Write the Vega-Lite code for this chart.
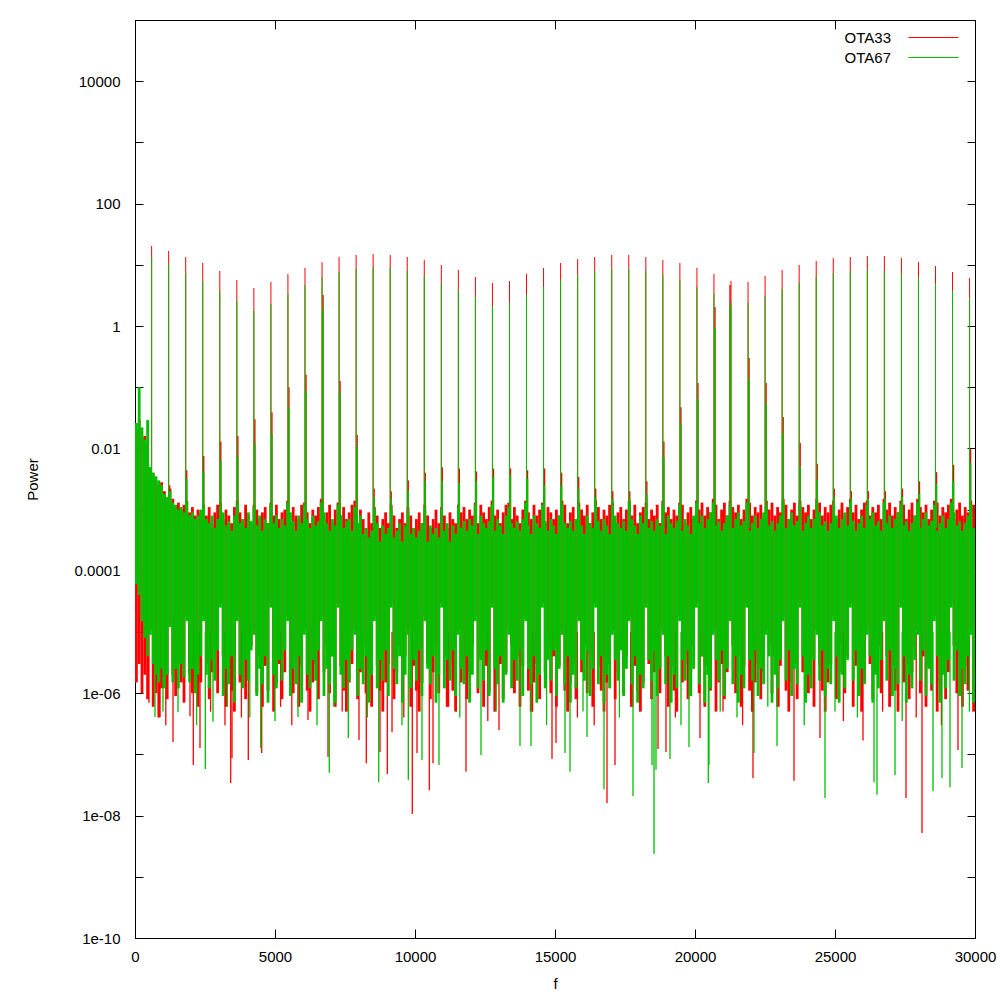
{
  "$schema": "https://vega.github.io/schema/vega-lite/v6.json",
  "width": 840,
  "height": 918,
  "autosize": {"type": "none"},
  "padding": {"left": 135, "top": 20, "right": 25, "bottom": 62},
  "background": "white",
  "config": {
    "view": {"stroke": "#000", "strokeWidth": 1},
    "axis": {"labelFont": "Liberation Sans", "labelFontSize": 15, "labelColor": "#000", "titleFont": "Liberation Sans", "titleFontSize": 15, "titleFontWeight": "normal", "titleColor": "#000", "tickColor": "#000", "domainColor": "#000", "grid": false},
    "legend": {"labelFont": "Liberation Sans", "labelFontSize": 15, "labelColor": "#000"}
  },
  "datasets": {
    "band": [
      {"f":50,"rh":2e-2,"rl":1.5e-6,"gh":2.6e-2,"gl":6e-5},
      {"f":150,"rh":3e-2,"rl":3e-6,"gh":0.1,"gl":4e-5},
      {"f":250,"rh":1.5e-2,"rl":1e-6,"gh":2.2e-2,"gl":1.5e-5},
      {"f":350,"rh":1.6e-2,"rl":2e-6,"gh":1.4e-2,"gl":8e-6},
      {"f":450,"rh":1.2e-2,"rl":8e-7,"gh":2.9e-2,"gl":4e-6},
      {"f":550,"rh":4.5e-3,"rl":1.1e-5,"gh":5e-3,"gl":9e-6},
      {"f":650,"rh":4e-3,"rl":6e-7,"gh":4e-3,"gl":3e-6},
      {"f":750,"rh":3e-3,"rl":1e-6,"gh":3.5e-3,"gl":2e-6},
      {"f":850,"rh":2.5e-3,"rl":4e-7,"gh":3e-3,"gl":1.5e-6},
      {"f":950,"rh":2.8e-3,"rl":1.2e-6,"gh":2.5e-3,"gl":2.5e-6},
      {"f":1050,"rh":2e-3,"rl":2e-6,"gh":1.8e-3,"gl":1.2e-6},
      {"f":1150,"rh":1.4e-3,"rl":8e-7,"gh":1.6e-3,"gl":2e-6},
      {"f":1250,"rh":2.2e-3,"rl":1.4e-5,"gh":2e-3,"gl":1.2e-5},
      {"f":1350,"rh":1.5e-3,"rl":2e-6,"gh":1.3e-3,"gl":1.5e-6},
      {"f":1450,"rh":1.1e-3,"rl":9e-7,"gh":1.2e-3,"gl":2.5e-6},
      {"f":1550,"rh":1.3e-3,"rl":3e-6,"gh":1e-3,"gl":1.2e-6},
      {"f":1650,"rh":1e-3,"rl":1.5e-6,"gh":1.1e-3,"gl":3e-6},
      {"f":1750,"rh":1.2e-3,"rl":7e-7,"gh":9e-4,"gl":1.8e-6},
      {"f":1850,"rh":1.4e-3,"rl":1.8e-5,"gh":1.3e-3,"gl":1.5e-5},
      {"f":1950,"rh":9e-4,"rl":2e-6,"gh":8e-4,"gl":1.5e-6},
      {"f":2050,"rh":1.1e-3,"rl":1e-6,"gh":9e-4,"gl":2.5e-6},
      {"f":2150,"rh":8e-4,"rl":2.5e-6,"gh":7e-4,"gl":1e-6},
      {"f":2250,"rh":1e-3,"rl":6e-7,"gh":8e-4,"gl":2e-6},
      {"f":2350,"rh":9e-4,"rl":1.5e-6,"gh":1e-3,"gl":4e-6},
      {"f":2450,"rh":1.2e-3,"rl":1.8e-5,"gh":1.1e-3,"gl":1.5e-5},
      {"f":2550,"rh":8e-4,"rl":3e-6,"gh":7e-4,"gl":2e-6},
      {"f":2650,"rh":1.1e-3,"rl":8e-7,"gh":6e-4,"gl":1.2e-6},
      {"f":2750,"rh":6e-4,"rl":2.2e-6,"gh":8e-4,"gl":3.5e-6},
      {"f":2850,"rh":9e-4,"rl":6e-6,"gh":5e-4,"gl":1.6e-6},
      {"f":2950,"rh":1.2e-3,"rl":1e-6,"gh":7e-4,"gl":5e-6},
      {"f":3050,"rh":1.3e-3,"rl":3e-5,"gh":1.1e-3,"gl":2.5e-5},
      {"f":3150,"rh":7e-4,"rl":4e-6,"gh":9e-4,"gl":9e-7},
      {"f":3250,"rh":1e-3,"rl":6e-7,"gh":5.5e-4,"gl":2.5e-6},
      {"f":3350,"rh":8e-4,"rl":2.8e-6,"gh":6.5e-4,"gl":1.4e-6},
      {"f":3450,"rh":6e-4,"rl":1.1e-6,"gh":4.5e-4,"gl":4e-6},
      {"f":3550,"rh":1.1e-3,"rl":5e-7,"gh":8e-4,"gl":7e-7},
      {"f":3650,"rh":1.4e-3,"rl":1.8e-5,"gh":1.2e-3,"gl":1.5e-5},
      {"f":3750,"rh":9e-4,"rl":1.5e-6,"gh":6e-4,"gl":2e-6},
      {"f":3850,"rh":7e-4,"rl":3e-6,"gh":7e-4,"gl":1.2e-6},
      {"f":3950,"rh":1.2e-3,"rl":8e-7,"gh":5e-4,"gl":3.5e-6},
      {"f":4050,"rh":8e-4,"rl":2.2e-6,"gh":9e-4,"gl":1.6e-6},
      {"f":4150,"rh":6e-4,"rl":6e-6,"gh":6.5e-4,"gl":5e-6},
      {"f":4250,"rh":1.2e-3,"rl":1.1e-5,"gh":1.1e-3,"gl":9e-6},
      {"f":4350,"rh":1e-3,"rl":1e-6,"gh":5.5e-4,"gl":9e-7},
      {"f":4450,"rh":7e-4,"rl":4e-6,"gh":8e-4,"gl":2.5e-6},
      {"f":4550,"rh":9e-4,"rl":6e-7,"gh":4.5e-4,"gl":1.4e-6},
      {"f":4650,"rh":1.1e-3,"rl":2.8e-6,"gh":7e-4,"gl":4e-6},
      {"f":4750,"rh":6e-4,"rl":1.1e-6,"gh":6e-4,"gl":7e-7},
      {"f":4850,"rh":1.3e-3,"rl":3e-5,"gh":1.2e-3,"gl":2.5e-5},
      {"f":4950,"rh":8e-4,"rl":5e-7,"gh":6e-4,"gl":2e-6},
      {"f":5050,"rh":1.2e-3,"rl":1.5e-6,"gh":8e-4,"gl":1.2e-6},
      {"f":5150,"rh":7e-4,"rl":3e-6,"gh":5e-4,"gl":3.5e-6},
      {"f":5250,"rh":9e-4,"rl":8e-7,"gh":7e-4,"gl":1.6e-6},
      {"f":5350,"rh":1e-3,"rl":2.2e-6,"gh":5.5e-4,"gl":5e-6},
      {"f":5450,"rh":1.4e-3,"rl":1.8e-5,"gh":1.3e-3,"gl":1.5e-5},
      {"f":5550,"rh":6e-4,"rl":6e-6,"gh":9e-4,"gl":9e-7},
      {"f":5650,"rh":1.1e-3,"rl":1e-6,"gh":6.5e-4,"gl":2.5e-6},
      {"f":5750,"rh":8e-4,"rl":4e-6,"gh":4.5e-4,"gl":1.4e-6},
      {"f":5850,"rh":7e-4,"rl":6e-7,"gh":8e-4,"gl":4e-6},
      {"f":5950,"rh":1.2e-3,"rl":2.8e-6,"gh":6e-4,"gl":7e-7},
      {"f":6050,"rh":1.3e-3,"rl":1.1e-5,"gh":1.2e-3,"gl":9e-6},
      {"f":6150,"rh":9e-4,"rl":1.1e-6,"gh":7e-4,"gl":2e-6},
      {"f":6250,"rh":6e-4,"rl":5e-7,"gh":5e-4,"gl":1.2e-6},
      {"f":6350,"rh":1e-3,"rl":1.5e-6,"gh":8e-4,"gl":3.5e-6},
      {"f":6450,"rh":8e-4,"rl":3e-6,"gh":5.5e-4,"gl":1.6e-6},
      {"f":6550,"rh":1.1e-3,"rl":8e-7,"gh":6.5e-4,"gl":5e-6},
      {"f":6650,"rh":1.5e-3,"rl":1.8e-5,"gh":1.3e-3,"gl":1.5e-5},
      {"f":6750,"rh":7e-4,"rl":2.2e-6,"gh":9e-4,"gl":9e-7},
      {"f":6850,"rh":9e-4,"rl":6e-6,"gh":6e-4,"gl":2.5e-6},
      {"f":6950,"rh":1.2e-3,"rl":1e-6,"gh":4.5e-4,"gl":1.4e-6},
      {"f":7050,"rh":6e-4,"rl":4e-6,"gh":7e-4,"gl":4e-6},
      {"f":7150,"rh":1e-3,"rl":6e-7,"gh":5.5e-4,"gl":7e-7},
      {"f":7250,"rh":1.3e-3,"rl":3e-5,"gh":1.2e-3,"gl":2.5e-5},
      {"f":7350,"rh":8e-4,"rl":2.8e-6,"gh":8e-4,"gl":2e-6},
      {"f":7450,"rh":1.1e-3,"rl":1.1e-6,"gh":5e-4,"gl":1.2e-6},
      {"f":7550,"rh":7e-4,"rl":5e-7,"gh":6.5e-4,"gl":3.5e-6},
      {"f":7650,"rh":9e-4,"rl":1.5e-6,"gh":7e-4,"gl":1.6e-6},
      {"f":7750,"rh":1.2e-3,"rl":3e-6,"gh":4.5e-4,"gl":5e-6},
      {"f":7850,"rh":1.4e-3,"rl":1.1e-5,"gh":1.1e-3,"gl":9e-6},
      {"f":7950,"rh":6e-4,"rl":8e-7,"gh":6e-4,"gl":9e-7},
      {"f":8050,"rh":1e-3,"rl":2.2e-6,"gh":8e-4,"gl":2.5e-6},
      {"f":8150,"rh":7e-4,"rl":6e-6,"gh":4e-4,"gl":1.4e-6},
      {"f":8250,"rh":5e-4,"rl":1e-6,"gh":5e-4,"gl":4e-6},
      {"f":8350,"rh":9e-4,"rl":4e-6,"gh":3.5e-4,"gl":7e-7},
      {"f":8450,"rh":6e-4,"rl":6e-7,"gh":4.5e-4,"gl":2e-6},
      {"f":8550,"rh":1.1e-3,"rl":1.8e-5,"gh":1e-3,"gl":1.5e-5},
      {"f":8650,"rh":8e-4,"rl":2.8e-6,"gh":6e-4,"gl":1.2e-6},
      {"f":8750,"rh":5e-4,"rl":1.1e-6,"gh":3e-4,"gl":3.5e-6},
      {"f":8850,"rh":7e-4,"rl":5e-7,"gh":5.5e-4,"gl":1.6e-6},
      {"f":8950,"rh":9e-4,"rl":1.5e-6,"gh":4e-4,"gl":5e-6},
      {"f":9050,"rh":6e-4,"rl":3e-6,"gh":5e-4,"gl":9e-7},
      {"f":9150,"rh":1.2e-3,"rl":3e-5,"gh":1e-3,"gl":2.5e-5},
      {"f":9250,"rh":8e-4,"rl":8e-7,"gh":3.5e-4,"gl":2.5e-6},
      {"f":9350,"rh":5e-4,"rl":2.2e-6,"gh":4.5e-4,"gl":1.4e-6},
      {"f":9450,"rh":7e-4,"rl":6e-6,"gh":6e-4,"gl":4e-6},
      {"f":9550,"rh":9e-4,"rl":1e-6,"gh":3e-4,"gl":7e-7},
      {"f":9650,"rh":6e-4,"rl":4e-6,"gh":5.5e-4,"gl":2e-6},
      {"f":9750,"rh":1.1e-3,"rl":1.1e-5,"gh":9e-4,"gl":9e-6},
      {"f":9850,"rh":8e-4,"rl":6e-7,"gh":4e-4,"gl":1.2e-6},
      {"f":9950,"rh":5e-4,"rl":2.8e-6,"gh":5e-4,"gl":3.5e-6},
      {"f":10050,"rh":7e-4,"rl":1.1e-6,"gh":3.5e-4,"gl":1.6e-6},
      {"f":10150,"rh":9e-4,"rl":5e-7,"gh":4.5e-4,"gl":5e-6},
      {"f":10250,"rh":6e-4,"rl":1.5e-6,"gh":6e-4,"gl":9e-7},
      {"f":10350,"rh":1.2e-3,"rl":1.8e-5,"gh":1e-3,"gl":1.5e-5},
      {"f":10450,"rh":8e-4,"rl":3e-6,"gh":3e-4,"gl":2.5e-6},
      {"f":10550,"rh":5e-4,"rl":8e-7,"gh":5.5e-4,"gl":1.4e-6},
      {"f":10650,"rh":7e-4,"rl":2.2e-6,"gh":4e-4,"gl":4e-6},
      {"f":10750,"rh":1e-3,"rl":6e-6,"gh":5e-4,"gl":7e-7},
      {"f":10850,"rh":6e-4,"rl":1e-6,"gh":3.5e-4,"gl":2e-6},
      {"f":10950,"rh":1.1e-3,"rl":3e-5,"gh":1e-3,"gl":2.5e-5},
      {"f":11050,"rh":8e-4,"rl":4e-6,"gh":4.5e-4,"gl":1.2e-6},
      {"f":11150,"rh":5e-4,"rl":6e-7,"gh":6e-4,"gl":3.5e-6},
      {"f":11250,"rh":9e-4,"rl":2.8e-6,"gh":3e-4,"gl":1.6e-6},
      {"f":11350,"rh":7e-4,"rl":1.1e-6,"gh":5.5e-4,"gl":5e-6},
      {"f":11450,"rh":6e-4,"rl":5e-7,"gh":4e-4,"gl":9e-7},
      {"f":11550,"rh":1.2e-3,"rl":1.1e-5,"gh":1.1e-3,"gl":9e-6},
      {"f":11650,"rh":9e-4,"rl":1.5e-6,"gh":5e-4,"gl":2.5e-6},
      {"f":11750,"rh":1.1e-3,"rl":3e-6,"gh":6.5e-4,"gl":1.4e-6},
      {"f":11850,"rh":7e-4,"rl":8e-7,"gh":4.5e-4,"gl":4e-6},
      {"f":11950,"rh":1e-3,"rl":2.2e-6,"gh":7e-4,"gl":7e-7},
      {"f":12050,"rh":8e-4,"rl":6e-6,"gh":5.5e-4,"gl":2e-6},
      {"f":12150,"rh":1.3e-3,"rl":1.8e-5,"gh":1.2e-3,"gl":1.5e-5},
      {"f":12250,"rh":6e-4,"rl":1e-6,"gh":4e-4,"gl":1.2e-6},
      {"f":12350,"rh":1.2e-3,"rl":4e-6,"gh":8e-4,"gl":3.5e-6},
      {"f":12450,"rh":9e-4,"rl":6e-7,"gh":6e-4,"gl":1.6e-6},
      {"f":12550,"rh":7e-4,"rl":2.8e-6,"gh":5e-4,"gl":5e-6},
      {"f":12650,"rh":1.1e-3,"rl":1.1e-6,"gh":6.5e-4,"gl":9e-7},
      {"f":12750,"rh":1.4e-3,"rl":3e-5,"gh":1.2e-3,"gl":2.5e-5},
      {"f":12850,"rh":8e-4,"rl":5e-7,"gh":4.5e-4,"gl":2.5e-6},
      {"f":12950,"rh":1e-3,"rl":1.5e-6,"gh":7e-4,"gl":1.4e-6},
      {"f":13050,"rh":6e-4,"rl":3e-6,"gh":5.5e-4,"gl":4e-6},
      {"f":13150,"rh":9e-4,"rl":8e-7,"gh":4e-4,"gl":7e-7},
      {"f":13250,"rh":1.2e-3,"rl":2.2e-6,"gh":8e-4,"gl":2e-6},
      {"f":13350,"rh":1.3e-3,"rl":1.1e-5,"gh":1.1e-3,"gl":9e-6},
      {"f":13450,"rh":7e-4,"rl":6e-6,"gh":6e-4,"gl":1.2e-6},
      {"f":13550,"rh":1.1e-3,"rl":1e-6,"gh":5e-4,"gl":3.5e-6},
      {"f":13650,"rh":8e-4,"rl":4e-6,"gh":6.5e-4,"gl":1.6e-6},
      {"f":13750,"rh":6e-4,"rl":6e-7,"gh":4.5e-4,"gl":5e-6},
      {"f":13850,"rh":1e-3,"rl":2.8e-6,"gh":7e-4,"gl":9e-7},
      {"f":13950,"rh":1.4e-3,"rl":1.8e-5,"gh":1.3e-3,"gl":1.5e-5},
      {"f":14050,"rh":9e-4,"rl":1.1e-6,"gh":5.5e-4,"gl":2.5e-6},
      {"f":14150,"rh":7e-4,"rl":5e-7,"gh":4e-4,"gl":1.4e-6},
      {"f":14250,"rh":1.2e-3,"rl":1.5e-6,"gh":8e-4,"gl":4e-6},
      {"f":14350,"rh":8e-4,"rl":3e-6,"gh":6e-4,"gl":7e-7},
      {"f":14450,"rh":1e-3,"rl":8e-7,"gh":5e-4,"gl":2e-6},
      {"f":14550,"rh":1.3e-3,"rl":3e-5,"gh":1.2e-3,"gl":2.5e-5},
      {"f":14650,"rh":6e-4,"rl":2.2e-6,"gh":6.5e-4,"gl":1.2e-6},
      {"f":14750,"rh":1.1e-3,"rl":6e-6,"gh":4.5e-4,"gl":3.5e-6},
      {"f":14850,"rh":9e-4,"rl":1e-6,"gh":7e-4,"gl":1.6e-6},
      {"f":14950,"rh":7e-4,"rl":4e-6,"gh":5.5e-4,"gl":5e-6},
      {"f":15050,"rh":1e-3,"rl":6e-7,"gh":4e-4,"gl":9e-7},
      {"f":15150,"rh":8e-4,"rl":2.8e-6,"gh":8e-4,"gl":2.5e-6},
      {"f":15250,"rh":1.4e-3,"rl":1.1e-5,"gh":1.2e-3,"gl":9e-6},
      {"f":15350,"rh":1.2e-3,"rl":1.1e-6,"gh":6e-4,"gl":1.4e-6},
      {"f":15450,"rh":6e-4,"rl":5e-7,"gh":5e-4,"gl":4e-6},
      {"f":15550,"rh":9e-4,"rl":1.5e-6,"gh":6.5e-4,"gl":7e-7},
      {"f":15650,"rh":1.1e-3,"rl":3e-6,"gh":4.5e-4,"gl":2e-6},
      {"f":15750,"rh":7e-4,"rl":8e-7,"gh":7e-4,"gl":1.2e-6},
      {"f":15850,"rh":1.3e-3,"rl":1.8e-5,"gh":1.1e-3,"gl":1.5e-5},
      {"f":15950,"rh":1e-3,"rl":2.2e-6,"gh":5.5e-4,"gl":3.5e-6},
      {"f":16050,"rh":8e-4,"rl":6e-6,"gh":4e-4,"gl":1.6e-6},
      {"f":16150,"rh":1.2e-3,"rl":1e-6,"gh":8e-4,"gl":5e-6},
      {"f":16250,"rh":6e-4,"rl":4e-6,"gh":6e-4,"gl":9e-7},
      {"f":16350,"rh":9e-4,"rl":6e-7,"gh":5e-4,"gl":2.5e-6},
      {"f":16450,"rh":1.4e-3,"rl":3e-5,"gh":1.2e-3,"gl":2.5e-5},
      {"f":16550,"rh":1.1e-3,"rl":2.8e-6,"gh":6.5e-4,"gl":1.4e-6},
      {"f":16650,"rh":7e-4,"rl":1.1e-6,"gh":4.5e-4,"gl":4e-6},
      {"f":16750,"rh":1e-3,"rl":5e-7,"gh":7e-4,"gl":7e-7},
      {"f":16850,"rh":8e-4,"rl":1.5e-6,"gh":5.5e-4,"gl":2e-6},
      {"f":16950,"rh":1.2e-3,"rl":3e-6,"gh":4e-4,"gl":1.2e-6},
      {"f":17050,"rh":1.3e-3,"rl":1.1e-5,"gh":1.2e-3,"gl":9e-6},
      {"f":17150,"rh":6e-4,"rl":8e-7,"gh":8e-4,"gl":3.5e-6},
      {"f":17250,"rh":9e-4,"rl":2.2e-6,"gh":6e-4,"gl":1.6e-6},
      {"f":17350,"rh":1.1e-3,"rl":6e-6,"gh":5e-4,"gl":5e-6},
      {"f":17450,"rh":7e-4,"rl":1e-6,"gh":6.5e-4,"gl":9e-7},
      {"f":17550,"rh":1e-3,"rl":4e-6,"gh":4.5e-4,"gl":2.5e-6},
      {"f":17650,"rh":1.4e-3,"rl":1.8e-5,"gh":1.3e-3,"gl":1.5e-5},
      {"f":17750,"rh":8e-4,"rl":6e-7,"gh":7e-4,"gl":1.4e-6},
      {"f":17850,"rh":1.2e-3,"rl":2.8e-6,"gh":5.5e-4,"gl":4e-6},
      {"f":17950,"rh":6e-4,"rl":1.1e-6,"gh":4e-4,"gl":7e-7},
      {"f":18050,"rh":9e-4,"rl":5e-7,"gh":8e-4,"gl":2e-6},
      {"f":18150,"rh":1.1e-3,"rl":1.5e-6,"gh":6e-4,"gl":1.2e-6},
      {"f":18250,"rh":1.3e-3,"rl":3e-5,"gh":1.1e-3,"gl":2.5e-5},
      {"f":18350,"rh":7e-4,"rl":3e-6,"gh":5e-4,"gl":3.5e-6},
      {"f":18450,"rh":1e-3,"rl":8e-7,"gh":6.5e-4,"gl":1.6e-6},
      {"f":18550,"rh":8e-4,"rl":2.2e-6,"gh":4.5e-4,"gl":5e-6},
      {"f":18650,"rh":1.2e-3,"rl":6e-6,"gh":7e-4,"gl":9e-7},
      {"f":18750,"rh":6e-4,"rl":1e-6,"gh":5.5e-4,"gl":2.5e-6},
      {"f":18850,"rh":1.4e-3,"rl":1.1e-5,"gh":1.2e-3,"gl":9e-6},
      {"f":18950,"rh":9e-4,"rl":4e-6,"gh":4e-4,"gl":1.4e-6},
      {"f":19050,"rh":1.1e-3,"rl":6e-7,"gh":8e-4,"gl":4e-6},
      {"f":19150,"rh":7e-4,"rl":2.8e-6,"gh":6e-4,"gl":7e-7},
      {"f":19250,"rh":1e-3,"rl":1.1e-6,"gh":5e-4,"gl":2e-6},
      {"f":19350,"rh":8e-4,"rl":5e-7,"gh":6.5e-4,"gl":1.2e-6},
      {"f":19450,"rh":1.3e-3,"rl":1.8e-5,"gh":1.2e-3,"gl":1.5e-5},
      {"f":19550,"rh":1.2e-3,"rl":1.5e-6,"gh":4.5e-4,"gl":3.5e-6},
      {"f":19650,"rh":6e-4,"rl":3e-6,"gh":7e-4,"gl":1.6e-6},
      {"f":19750,"rh":9e-4,"rl":8e-7,"gh":5.5e-4,"gl":5e-6},
      {"f":19850,"rh":1.1e-3,"rl":2.2e-6,"gh":4e-4,"gl":9e-7},
      {"f":19950,"rh":7e-4,"rl":6e-6,"gh":8e-4,"gl":2.5e-6},
      {"f":20050,"rh":1.4e-3,"rl":3e-5,"gh":1.3e-3,"gl":2.5e-5},
      {"f":20150,"rh":1e-3,"rl":1e-6,"gh":6e-4,"gl":1.4e-6},
      {"f":20250,"rh":1.3e-3,"rl":4e-6,"gh":8e-4,"gl":4e-6},
      {"f":20350,"rh":8e-4,"rl":6e-7,"gh":5e-4,"gl":7e-7},
      {"f":20450,"rh":1.1e-3,"rl":2.8e-6,"gh":7e-4,"gl":2e-6},
      {"f":20550,"rh":9e-4,"rl":1.1e-6,"gh":9e-4,"gl":1.2e-6},
      {"f":20650,"rh":1.5e-3,"rl":1.1e-5,"gh":1.3e-3,"gl":9e-6},
      {"f":20750,"rh":1.2e-3,"rl":5e-7,"gh":5.5e-4,"gl":3.5e-6},
      {"f":20850,"rh":7e-4,"rl":1.5e-6,"gh":6.5e-4,"gl":1.6e-6},
      {"f":20950,"rh":1e-3,"rl":3e-6,"gh":4.5e-4,"gl":5e-6},
      {"f":21050,"rh":1.3e-3,"rl":8e-7,"gh":6e-4,"gl":9e-7},
      {"f":21150,"rh":8e-4,"rl":2.2e-6,"gh":8e-4,"gl":2.5e-6},
      {"f":21250,"rh":1.4e-3,"rl":1.8e-5,"gh":1.2e-3,"gl":1.5e-5},
      {"f":21350,"rh":1.1e-3,"rl":6e-6,"gh":5e-4,"gl":1.4e-6},
      {"f":21450,"rh":9e-4,"rl":1e-6,"gh":7e-4,"gl":4e-6},
      {"f":21550,"rh":1.2e-3,"rl":4e-6,"gh":9e-4,"gl":7e-7},
      {"f":21650,"rh":7e-4,"rl":6e-7,"gh":5.5e-4,"gl":2e-6},
      {"f":21750,"rh":1e-3,"rl":2.8e-6,"gh":6.5e-4,"gl":1.2e-6},
      {"f":21850,"rh":1.5e-3,"rl":3e-5,"gh":1.3e-3,"gl":2.5e-5},
      {"f":21950,"rh":1.3e-3,"rl":1.1e-6,"gh":4.5e-4,"gl":3.5e-6},
      {"f":22050,"rh":8e-4,"rl":5e-7,"gh":6e-4,"gl":1.6e-6},
      {"f":22150,"rh":1.1e-3,"rl":1.5e-6,"gh":8e-4,"gl":5e-6},
      {"f":22250,"rh":9e-4,"rl":3e-6,"gh":5e-4,"gl":9e-7},
      {"f":22350,"rh":1.2e-3,"rl":8e-7,"gh":7e-4,"gl":2.5e-6},
      {"f":22450,"rh":7e-4,"rl":2.2e-6,"gh":9e-4,"gl":1.4e-6},
      {"f":22550,"rh":1.4e-3,"rl":1.1e-5,"gh":1.2e-3,"gl":9e-6},
      {"f":22650,"rh":1e-3,"rl":6e-6,"gh":5.5e-4,"gl":4e-6},
      {"f":22750,"rh":1.3e-3,"rl":1e-6,"gh":6.5e-4,"gl":7e-7},
      {"f":22850,"rh":8e-4,"rl":4e-6,"gh":4.5e-4,"gl":2e-6},
      {"f":22950,"rh":1.1e-3,"rl":6e-7,"gh":6e-4,"gl":1.2e-6},
      {"f":23050,"rh":9e-4,"rl":2.8e-6,"gh":8e-4,"gl":3.5e-6},
      {"f":23150,"rh":1.5e-3,"rl":1.8e-5,"gh":1.3e-3,"gl":1.5e-5},
      {"f":23250,"rh":1.2e-3,"rl":1.1e-6,"gh":5e-4,"gl":1.6e-6},
      {"f":23350,"rh":7e-4,"rl":5e-7,"gh":7e-4,"gl":5e-6},
      {"f":23450,"rh":1e-3,"rl":1.5e-6,"gh":9e-4,"gl":9e-7},
      {"f":23550,"rh":1.3e-3,"rl":3e-6,"gh":5.5e-4,"gl":2.5e-6},
      {"f":23650,"rh":8e-4,"rl":8e-7,"gh":6.5e-4,"gl":1.4e-6},
      {"f":23750,"rh":1.4e-3,"rl":3e-5,"gh":1.2e-3,"gl":2.5e-5},
      {"f":23850,"rh":1.1e-3,"rl":2.2e-6,"gh":4.5e-4,"gl":4e-6},
      {"f":23950,"rh":9e-4,"rl":6e-6,"gh":6e-4,"gl":7e-7},
      {"f":24050,"rh":1.2e-3,"rl":1e-6,"gh":8e-4,"gl":2e-6},
      {"f":24150,"rh":7e-4,"rl":4e-6,"gh":5e-4,"gl":1.2e-6},
      {"f":24250,"rh":1e-3,"rl":6e-7,"gh":7e-4,"gl":3.5e-6},
      {"f":24350,"rh":1.5e-3,"rl":1.1e-5,"gh":1.3e-3,"gl":9e-6},
      {"f":24450,"rh":1.3e-3,"rl":2.8e-6,"gh":9e-4,"gl":1.6e-6},
      {"f":24550,"rh":8e-4,"rl":1.1e-6,"gh":5.5e-4,"gl":5e-6},
      {"f":24650,"rh":1.1e-3,"rl":5e-7,"gh":6.5e-4,"gl":9e-7},
      {"f":24750,"rh":9e-4,"rl":1.5e-6,"gh":4.5e-4,"gl":2.5e-6},
      {"f":24850,"rh":1.2e-3,"rl":3e-6,"gh":6e-4,"gl":1.4e-6},
      {"f":24950,"rh":1.4e-3,"rl":1.8e-5,"gh":1.2e-3,"gl":1.5e-5},
      {"f":25050,"rh":7e-4,"rl":8e-7,"gh":8e-4,"gl":4e-6},
      {"f":25150,"rh":1e-3,"rl":2.2e-6,"gh":5e-4,"gl":7e-7},
      {"f":25250,"rh":1.3e-3,"rl":6e-6,"gh":7e-4,"gl":2e-6},
      {"f":25350,"rh":8e-4,"rl":1e-6,"gh":9e-4,"gl":1.2e-6},
      {"f":25450,"rh":1.1e-3,"rl":4e-6,"gh":5.5e-4,"gl":3.5e-6},
      {"f":25550,"rh":1.5e-3,"rl":3e-5,"gh":1.3e-3,"gl":2.5e-5},
      {"f":25650,"rh":9e-4,"rl":6e-7,"gh":6.5e-4,"gl":1.6e-6},
      {"f":25750,"rh":1.2e-3,"rl":2.8e-6,"gh":4.5e-4,"gl":5e-6},
      {"f":25850,"rh":7e-4,"rl":1.1e-6,"gh":6e-4,"gl":9e-7},
      {"f":25950,"rh":1e-3,"rl":5e-7,"gh":8e-4,"gl":2.5e-6},
      {"f":26050,"rh":1.3e-3,"rl":1.5e-6,"gh":5e-4,"gl":1.4e-6},
      {"f":26150,"rh":1.4e-3,"rl":1.1e-5,"gh":1.2e-3,"gl":9e-6},
      {"f":26250,"rh":8e-4,"rl":3e-6,"gh":7e-4,"gl":4e-6},
      {"f":26350,"rh":1.1e-3,"rl":8e-7,"gh":9e-4,"gl":7e-7},
      {"f":26450,"rh":9e-4,"rl":2.2e-6,"gh":5.5e-4,"gl":2e-6},
      {"f":26550,"rh":1.2e-3,"rl":6e-6,"gh":6.5e-4,"gl":1.2e-6},
      {"f":26650,"rh":7e-4,"rl":1e-6,"gh":4.5e-4,"gl":3.5e-6},
      {"f":26750,"rh":1.5e-3,"rl":1.8e-5,"gh":1.3e-3,"gl":1.5e-5},
      {"f":26850,"rh":1e-3,"rl":4e-6,"gh":6e-4,"gl":1.6e-6},
      {"f":26950,"rh":1.3e-3,"rl":6e-7,"gh":8e-4,"gl":5e-6},
      {"f":27050,"rh":8e-4,"rl":2.8e-6,"gh":5e-4,"gl":9e-7},
      {"f":27150,"rh":1.1e-3,"rl":1.1e-6,"gh":7e-4,"gl":2.5e-6},
      {"f":27250,"rh":9e-4,"rl":5e-7,"gh":9e-4,"gl":1.4e-6},
      {"f":27350,"rh":1.4e-3,"rl":3e-5,"gh":1.2e-3,"gl":2.5e-5},
      {"f":27450,"rh":1.2e-3,"rl":1.5e-6,"gh":5.5e-4,"gl":4e-6},
      {"f":27550,"rh":7e-4,"rl":3e-6,"gh":6.5e-4,"gl":7e-7},
      {"f":27650,"rh":1e-3,"rl":8e-7,"gh":4.5e-4,"gl":2e-6},
      {"f":27750,"rh":1.3e-3,"rl":2.2e-6,"gh":6e-4,"gl":1.2e-6},
      {"f":27850,"rh":8e-4,"rl":6e-6,"gh":8e-4,"gl":3.5e-6},
      {"f":27950,"rh":1.5e-3,"rl":1.1e-5,"gh":1.3e-3,"gl":9e-6},
      {"f":28050,"rh":1.1e-3,"rl":1e-6,"gh":5e-4,"gl":1.6e-6},
      {"f":28150,"rh":9e-4,"rl":4e-6,"gh":7e-4,"gl":5e-6},
      {"f":28250,"rh":1.2e-3,"rl":6e-7,"gh":9e-4,"gl":9e-7},
      {"f":28350,"rh":7e-4,"rl":2.8e-6,"gh":5.5e-4,"gl":2.5e-6},
      {"f":28450,"rh":1e-3,"rl":1.1e-6,"gh":6.5e-4,"gl":1.4e-6},
      {"f":28550,"rh":1.4e-3,"rl":1.8e-5,"gh":1.2e-3,"gl":1.5e-5},
      {"f":28650,"rh":1.3e-3,"rl":5e-7,"gh":4.5e-4,"gl":4e-6},
      {"f":28750,"rh":8e-4,"rl":1.5e-6,"gh":6e-4,"gl":7e-7},
      {"f":28850,"rh":1.1e-3,"rl":3e-6,"gh":8e-4,"gl":2e-6},
      {"f":28950,"rh":9e-4,"rl":8e-7,"gh":5e-4,"gl":1.2e-6},
      {"f":29050,"rh":1.2e-3,"rl":2.2e-6,"gh":7e-4,"gl":3.5e-6},
      {"f":29150,"rh":1.5e-3,"rl":3e-5,"gh":1.3e-3,"gl":2.5e-5},
      {"f":29250,"rh":7e-4,"rl":6e-6,"gh":9e-4,"gl":1.6e-6},
      {"f":29350,"rh":1e-3,"rl":1e-6,"gh":5.5e-4,"gl":5e-6},
      {"f":29450,"rh":1.3e-3,"rl":4e-6,"gh":6.5e-4,"gl":9e-7},
      {"f":29550,"rh":8e-4,"rl":6e-7,"gh":4.5e-4,"gl":2.5e-6},
      {"f":29650,"rh":1.1e-3,"rl":2.8e-6,"gh":6e-4,"gl":1.4e-6},
      {"f":29750,"rh":9e-4,"rl":1.1e-6,"gh":8e-4,"gl":4e-6},
      {"f":29850,"rh":1.4e-3,"rl":1.1e-5,"gh":1.2e-3,"gl":9e-6},
      {"f":29950,"rh":1.2e-3,"rl":5e-7,"gh":5e-4,"gl":7e-7}
    ],
    "peaks": [
      {"f":594,"fs":630,"r":20.3,"g":13.3,"rs":3e-3,"gs":2.5e-3},
      {"f":1202,"fs":1238,"r":16.8,"g":10.4,"rs":2.5e-3,"gs":1.8e-3},
      {"f":1811,"fs":1847,"r":13.4,"g":7.35,"rs":4.4e-3,"gs":3.2e-3},
      {"f":2419,"fs":2455,"r":10.7,"g":5.43,"rs":7.5e-3,"gs":4.1e-3},
      {"f":3028,"fs":3064,"r":7.92,"g":3.73,"rs":1.3e-2,"gs":6.2e-3},
      {"f":3637,"fs":3673,"r":5.65,"g":2.56,"rs":1.6e-2,"gs":7.2e-3},
      {"f":4245,"fs":4281,"r":4.18,"g":1.76,"rs":3e-2,"gs":1.2e-2},
      {"f":4854,"fs":4890,"r":5.24,"g":2.31,"rs":3.9e-2,"gs":1.7e-2},
      {"f":5462,"fs":5498,"r":7.08,"g":3.37,"rs":0.1,"gs":4.7e-2},
      {"f":6071,"fs":6107,"r":8.87,"g":4.68,"rs":0.16,"gs":8.7e-2},
      {"f":6680,"fs":6716,"r":11.1,"g":6.32,"rs":3.21,"gs":1.83},
      {"f":7288,"fs":7324,"r":13.4,"g":7.71,"rs":0.126,"gs":8e-2},
      {"f":7897,"fs":7933,"r":14.5,"g":8.54,"rs":1.66e-2,"gs":1.05e-2},
      {"f":8505,"fs":8541,"r":15.0,"g":9.2,"rs":2.2e-3,"gs":1.6e-3},
      {"f":9114,"fs":9150,"r":14.5,"g":8.87,"rs":2e-3,"gs":1.5e-3},
      {"f":9723,"fs":9759,"r":13.4,"g":7.92,"rs":3e-3,"gs":2e-3},
      {"f":10331,"fs":10367,"r":12.0,"g":6.56,"rs":4e-3,"gs":2.9e-3},
      {"f":10940,"fs":10976,"r":9.93,"g":5.05,"rs":4.9e-3,"gs":2.9e-3},
      {"f":11548,"fs":11584,"r":8.22,"g":3.87,"rs":4.7e-3,"gs":2.7e-3},
      {"f":12157,"fs":12193,"r":6.32,"g":2.98,"rs":4.2e-3,"gs":2.9e-3},
      {"f":12766,"fs":12802,"r":5.05,"g":2.12,"rs":4.7e-3,"gs":3.4e-3},
      {"f":13374,"fs":13410,"r":5.43,"g":2.38,"rs":4.7e-3,"gs":3.7e-3},
      {"f":13983,"fs":14019,"r":7.08,"g":3.21,"rs":4.4e-3,"gs":3.2e-3},
      {"f":14591,"fs":14627,"r":8.87,"g":4.34,"rs":4.7e-3,"gs":2.5e-3},
      {"f":15200,"fs":15236,"r":10.7,"g":5.65,"rs":4e-3,"gs":2.4e-3},
      {"f":15809,"fs":15845,"r":12.4,"g":6.81,"rs":3.4e-3,"gs":2.2e-3},
      {"f":16417,"fs":16453,"r":13.4,"g":7.92,"rs":2.2e-3,"gs":1.6e-3},
      {"f":17026,"fs":17062,"r":14.5,"g":8.54,"rs":2e-3,"gs":1.5e-3},
      {"f":17634,"fs":17670,"r":14.5,"g":8.54,"rs":2e-3,"gs":1.5e-3},
      {"f":18243,"fs":18279,"r":13.4,"g":7.92,"rs":2.9e-3,"gs":1.8e-3},
      {"f":18852,"fs":18888,"r":12.0,"g":6.81,"rs":1.3e-2,"gs":7.2e-3},
      {"f":19460,"fs":19496,"r":10.7,"g":5.65,"rs":4.7e-2,"gs":2.5e-2},
      {"f":20069,"fs":20105,"r":8.87,"g":4.34,"rs":0.117,"gs":6.4e-2},
      {"f":20677,"fs":20713,"r":7.08,"g":3.37,"rs":2.04,"gs":0.94},
      {"f":21286,"fs":21250,"r":5.43,"g":2.47,"rs":4.68,"gs":2.12},
      {"f":21895,"fs":21931,"r":5.24,"g":2.38,"rs":0.3,"gs":0.136},
      {"f":22503,"fs":22539,"r":6.56,"g":3.13,"rs":0.117,"gs":5.5e-2},
      {"f":23112,"fs":23148,"r":8.22,"g":4.03,"rs":3.26e-2,"gs":1.79e-2},
      {"f":23720,"fs":23756,"r":9.93,"g":5.05,"rs":1.22e-2,"gs":5e-3},
      {"f":24329,"fs":24365,"r":11.5,"g":6.32,"rs":5.6e-3,"gs":3.05e-3},
      {"f":24938,"fs":24974,"r":12.9,"g":7.35,"rs":2.2e-3,"gs":1.6e-3},
      {"f":25546,"fs":25582,"r":13.4,"g":7.92,"rs":2e-3,"gs":1.5e-3},
      {"f":26155,"fs":26191,"r":13.9,"g":8.32,"rs":2e-3,"gs":1.5e-3},
      {"f":26763,"fs":26799,"r":13.9,"g":7.92,"rs":2e-3,"gs":1.5e-3},
      {"f":27372,"fs":27408,"r":12.9,"g":7.16,"rs":2.2e-3,"gs":1.6e-3},
      {"f":27981,"fs":28017,"r":11.1,"g":6.15,"rs":2.9e-3,"gs":1.8e-3},
      {"f":28589,"fs":28625,"r":9.55,"g":4.91,"rs":4.1e-3,"gs":2.6e-3},
      {"f":29198,"fs":29234,"r":7.62,"g":3.73,"rs":5.4e-3,"gs":2.9e-3},
      {"f":29806,"fs":29842,"r":6.08,"g":2.9,"rs":9.8e-3,"gs":5.8e-3}
    ],
    "rdips": [
      {"f":893,"p":4.1e-7},{"f":1357,"p":1.6e-7},{"f":1964,"p":4.2e-7},{"f":2082,"p":6.7e-8},
      {"f":2321,"p":1.27e-7},{"f":3214,"p":3e-7},{"f":3418,"p":3.4e-8},{"f":3464,"p":8.7e-8},
      {"f":4046,"p":8.1e-8},{"f":4525,"p":1.05e-7},{"f":6179,"p":3.65e-7},{"f":6893,"p":9.1e-8},
      {"f":8000,"p":1.72e-7},{"f":8261,"p":7.2e-8},{"f":8750,"p":1.09e-7},{"f":9011,"p":4.8e-8},
      {"f":9179,"p":2.3e-7},{"f":9904,"p":1.06e-8},{"f":10071,"p":1.05e-7},{"f":10511,"p":2.6e-8},
      {"f":10643,"p":7.2e-8},{"f":11821,"p":5.2e-8},{"f":13000,"p":2.5e-7},{"f":14893,"p":8.4e-8},
      {"f":15036,"p":1.54e-7},{"f":16857,"p":1.6e-8},{"f":17143,"p":6.7e-8},{"f":18679,"p":1.23e-7},
      {"f":18964,"p":1.09e-7},{"f":20179,"p":1.85e-7},{"f":22071,"p":4.1e-8},{"f":23536,"p":3.7e-8},
      {"f":24464,"p":1.85e-7},{"f":26000,"p":1.68e-7},{"f":27536,"p":1.94e-8},{"f":28107,"p":5.2e-9},
      {"f":29393,"p":1.18e-7},
      {"f":500,"p":7e-7},{"f":1100,"p":3e-7},{"f":2700,"p":5e-7},{"f":3800,"p":4e-7},
      {"f":5200,"p":6e-7},{"f":5600,"p":3e-7},{"f":7400,"p":5e-7},{"f":9600,"p":4e-7},
      {"f":11200,"p":6e-7},{"f":12600,"p":3.5e-7},{"f":14200,"p":5e-7},{"f":15800,"p":4e-7},
      {"f":16400,"p":3e-7},{"f":17700,"p":6e-7},{"f":19300,"p":4e-7},{"f":21000,"p":5e-7},
      {"f":21700,"p":3e-7},{"f":23000,"p":6e-7},{"f":25300,"p":3.5e-7},{"f":26700,"p":5e-7},
      {"f":27900,"p":4e-7},{"f":28800,"p":3e-7}
    ],
    "gdips": [
      {"f":714,"p":4.1e-7},{"f":1536,"p":4.9e-7},{"f":2511,"p":5.8e-8},{"f":2786,"p":3.4e-7},
      {"f":4489,"p":1.27e-7},{"f":5821,"p":4.1e-7},{"f":6500,"p":3e-7},{"f":6939,"p":5e-8},
      {"f":7618,"p":1.85e-7},{"f":8704,"p":3.5e-8},{"f":9536,"p":3e-7},{"f":9761,"p":3.8e-8},
      {"f":10250,"p":8.1e-8},{"f":10857,"p":6.7e-8},{"f":12357,"p":9.8e-8},{"f":13750,"p":1.37e-7},
      {"f":14143,"p":1.37e-7},{"f":15357,"p":1.05e-7},{"f":15536,"p":5.2e-8},{"f":16143,"p":1.92e-7},
      {"f":16750,"p":2.7e-8},{"f":17786,"p":2.1e-8},{"f":18464,"p":6.7e-8},{"f":18536,"p":2.36e-9},
      {"f":18607,"p":5.6e-8},{"f":19107,"p":8.4e-8},{"f":19786,"p":1.32e-7},{"f":20475,"p":3.4e-8},
      {"f":20500,"p":6.7e-8},{"f":22107,"p":1.05e-7},{"f":22929,"p":1.37e-7},{"f":24643,"p":1.94e-8},
      {"f":26393,"p":3.5e-8},{"f":26500,"p":2.2e-8},{"f":27143,"p":4.6e-8},{"f":28500,"p":2.5e-8},
      {"f":28821,"p":4.1e-8},{"f":29107,"p":2.9e-8},{"f":29536,"p":6e-8},
      {"f":1000,"p":5e-7},{"f":2200,"p":3e-7},{"f":3300,"p":6e-7},{"f":4100,"p":4e-7},
      {"f":5000,"p":3.5e-7},{"f":7100,"p":6e-7},{"f":8300,"p":4e-7},{"f":11600,"p":4e-7},
      {"f":12900,"p":5e-7},{"f":14700,"p":3e-7},{"f":16000,"p":5e-7},{"f":17300,"p":4e-7},
      {"f":19500,"p":3e-7},{"f":20900,"p":5e-7},{"f":21500,"p":4e-7},{"f":22600,"p":6e-7},
      {"f":23900,"p":3e-7},{"f":25000,"p":5e-7},{"f":25800,"p":4e-7},{"f":27400,"p":3.5e-7},
      {"f":29800,"p":5e-7}
    ]
  },
  "resolve": {"axis": {"x": "independent", "y": "independent"}},
  "layer": [
    {
      "data": {"name": "band"},
      "mark": {"type": "rule", "strokeWidth": 2.8},
      "encoding": {
        "x": {"field": "f", "type": "quantitative", "scale": {"domain": [0, 30000], "nice": false},
          "axis": {"orient": "bottom", "values": [0, 5000, 10000, 15000, 20000, 25000, 30000], "format": "d", "labelFlush": false, "tickSize": -9, "labelPadding": 20, "title": "f", "titlePadding": 12}},
        "y": {"field": "rh", "type": "quantitative", "scale": {"type": "log", "domain": [1e-10, 100000], "nice": false},
          "axis": {"orient": "left", "values": [1e-10, 1e-9, 1e-8, 1e-7, 1e-6, 1e-5, 0.0001, 0.001, 0.01, 0.1, 1, 10, 100, 1000, 10000, 100000],
            "labelExpr": "abs(round(log(datum.value)/LN10)) % 2 == 1 ? '' : (datum.value >= 1 ? format(datum.value, 'd') : (datum.value > 0.00005 ? format(datum.value, '') : '1e-' + format(-round(log(datum.value)/LN10), '02d')))",
            "labelOverlap": false, "tickSize": -8, "labelPadding": 23, "title": "Power", "titlePadding": 34}},
        "y2": {"field": "rl"},
        "color": {"datum": "OTA33", "type": "nominal", "scale": {"domain": ["OTA33", "OTA67"], "range": ["#ff0000", "#00c000"]},
          "legend": {"orient": "none", "legendX": 791, "legendY": 10, "title": null, "symbolType": "M-6.25,0H6.25", "symbolSize": 64, "symbolStrokeWidth": 1, "labelAlign": "right", "labelOffset": -50, "rowPadding": 4, "padding": 0,
            "encode": {"symbols": {"update": {"stroke": {"scale": "color", "field": "value"}, "strokeWidth": {"value": 1}, "fill": {"value": "transparent"}, "opacity": {"value": 1}}}}}}
      }
    },
    {
      "data": {"name": "rdips"},
      "mark": {"type": "rule", "strokeWidth": 1.3},
      "encoding": {
        "x": {"field": "f", "type": "quantitative", "scale": {"domain": [0, 30000], "nice": false}, "axis": null},
        "y": {"field": "p", "type": "quantitative", "scale": {"type": "log", "domain": [1e-10, 100000], "nice": false}, "axis": null},
        "y2": {"datum": 1e-5},
        "color": {"datum": "OTA33", "type": "nominal", "scale": {"domain": ["OTA33", "OTA67"], "range": ["#ff0000", "#00c000"]}}
      }
    },
    {
      "data": {"name": "peaks"},
      "mark": {"type": "rule", "strokeWidth": 1.4},
      "encoding": {
        "x": {"field": "fs", "type": "quantitative", "scale": {"domain": [0, 30000], "nice": false}, "axis": null},
        "y": {"field": "rs", "type": "quantitative", "scale": {"type": "log", "domain": [1e-10, 100000], "nice": false}, "axis": null},
        "y2": {"datum": 0.0005},
        "color": {"datum": "OTA33", "type": "nominal", "scale": {"domain": ["OTA33", "OTA67"], "range": ["#ff0000", "#00c000"]}}
      }
    },
    {
      "data": {"name": "peaks"},
      "mark": {"type": "rule", "strokeWidth": 1},
      "encoding": {
        "x": {"field": "f", "type": "quantitative", "scale": {"domain": [0, 30000], "nice": false}, "axis": null},
        "y": {"field": "r", "type": "quantitative", "scale": {"type": "log", "domain": [1e-10, 100000], "nice": false}, "axis": null},
        "y2": {"datum": 0.0005},
        "color": {"datum": "OTA33", "type": "nominal", "scale": {"domain": ["OTA33", "OTA67"], "range": ["#ff0000", "#00c000"]}}
      }
    },
    {
      "data": {"name": "band"},
      "mark": {"type": "rule", "strokeWidth": 2.8},
      "encoding": {
        "x": {"field": "f", "type": "quantitative", "scale": {"domain": [0, 30000], "nice": false}, "axis": null},
        "y": {"field": "gh", "type": "quantitative", "scale": {"type": "log", "domain": [1e-10, 100000], "nice": false}, "axis": null},
        "y2": {"field": "gl"},
        "color": {"datum": "OTA67", "type": "nominal", "scale": {"domain": ["OTA33", "OTA67"], "range": ["#ff0000", "#00c000"]}}
      }
    },
    {
      "data": {"name": "gdips"},
      "mark": {"type": "rule", "strokeWidth": 1.3},
      "encoding": {
        "x": {"field": "f", "type": "quantitative", "scale": {"domain": [0, 30000], "nice": false}, "axis": null},
        "y": {"field": "p", "type": "quantitative", "scale": {"type": "log", "domain": [1e-10, 100000], "nice": false}, "axis": null},
        "y2": {"datum": 1e-5},
        "color": {"datum": "OTA67", "type": "nominal", "scale": {"domain": ["OTA33", "OTA67"], "range": ["#ff0000", "#00c000"]}}
      }
    },
    {
      "data": {"name": "peaks"},
      "mark": {"type": "rule", "strokeWidth": 1.4},
      "encoding": {
        "x": {"field": "fs", "type": "quantitative", "scale": {"domain": [0, 30000], "nice": false}, "axis": null},
        "y": {"field": "gs", "type": "quantitative", "scale": {"type": "log", "domain": [1e-10, 100000], "nice": false}, "axis": null},
        "y2": {"datum": 0.0005},
        "color": {"datum": "OTA67", "type": "nominal", "scale": {"domain": ["OTA33", "OTA67"], "range": ["#ff0000", "#00c000"]}}
      }
    },
    {
      "data": {"name": "peaks"},
      "mark": {"type": "rule", "strokeWidth": 1},
      "encoding": {
        "x": {"field": "f", "type": "quantitative", "scale": {"domain": [0, 30000], "nice": false},
          "axis": {"orient": "top", "values": [0, 5000, 10000, 15000, 20000, 25000, 30000], "labels": false, "title": null, "tickSize": -9}},
        "y": {"field": "g", "type": "quantitative", "scale": {"type": "log", "domain": [1e-10, 100000], "nice": false},
          "axis": {"orient": "right", "values": [1e-10, 1e-9, 1e-8, 1e-7, 1e-6, 1e-5, 0.0001, 0.001, 0.01, 0.1, 1, 10, 100, 1000, 10000, 100000], "labels": false, "title": null, "tickSize": -8}},
        "y2": {"datum": 0.0005},
        "color": {"datum": "OTA67", "type": "nominal", "scale": {"domain": ["OTA33", "OTA67"], "range": ["#ff0000", "#00c000"]}}
      }
    }
  ]
}
